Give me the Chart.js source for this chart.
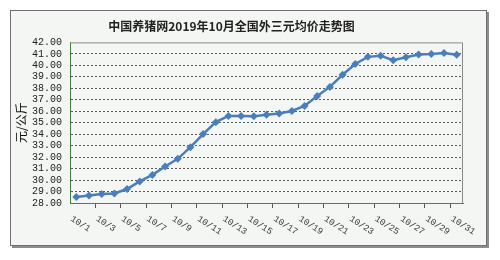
<!DOCTYPE html>
<html>
<head>
<meta charset="utf-8">
<script src="https://cdn.jsdelivr.net/npm/chart.js@4"></script>
<style>
  html, body { margin: 0; padding: 0; background: #ffffff; }
  #wrap { position: relative; width: 500px; height: 260px; }
  /* outer frame with shadow, like the Excel chart box */
  #frame {
    position: absolute; left: 10px; top: 10px; width: 475px; height: 234px;
    background: #f4f6f3; border: 1px solid #707070; box-shadow: 2px 2px 0 #8c8c8c;
  }
  #priceChart { position: absolute; left: 0; top: 0; }
</style>
</head>
<body>
<div id="wrap">
  <div id="frame"></div>
  <canvas id="priceChart" width="500" height="260"></canvas>
</div>
<script>
// Chart data
const chartTitle = '中国养猪网2019年10月全国外三元均价走势图';
const yAxisTitle = '元/公斤';
const days = ['10/1','10/2','10/3','10/4','10/5','10/6','10/7','10/8','10/9','10/10',
  '10/11','10/12','10/13','10/14','10/15','10/16','10/17','10/18','10/19','10/20',
  '10/21','10/22','10/23','10/24','10/25','10/26','10/27','10/28','10/29','10/30','10/31'];
const prices = [28.52, 28.66, 28.78, 28.83, 29.22, 29.88, 30.45, 31.18, 31.85, 32.87,
  34.01, 35.05, 35.59, 35.58, 35.57, 35.69, 35.80, 36.02, 36.46, 37.32,
  38.12, 39.18, 40.12, 40.74, 40.84, 40.45, 40.71, 40.94, 40.99, 41.08, 40.93];
const yMin = 28;
const yMax = 42;

/* ============================================
   PLUGINS
   ============================================ */
// Top and right plot border
const plotBorder = {
  id: 'plotBorder',
  beforeDatasetsDraw(chart) {
    const { ctx, chartArea: a } = chart;
    ctx.save();
    ctx.strokeStyle = '#8a8a8a';
    ctx.lineWidth = 1;
    ctx.beginPath();
    ctx.moveTo(a.left, a.top + 0.5);
    ctx.lineTo(a.right - 0.5, a.top + 0.5);
    ctx.lineTo(a.right - 0.5, a.bottom);
    ctx.stroke();
    ctx.restore();
  }
};

// Slanted x labels (rotated clockwise), every second day
const slantedLabels = {
  id: 'slantedLabels',
  afterDraw(chart) {
    const { ctx, chartArea: a } = chart;
    const xScale = chart.scales.x;
    ctx.save();
    ctx.font = '9px "Liberation Mono"';
    ctx.fillStyle = '#333333';
    ctx.textAlign = 'left';
    ctx.textBaseline = 'middle';
    days.forEach((d, i) => {
      if (i % 2 !== 0) return;
      const x = xScale.getPixelForValue(i);
      ctx.save();
      ctx.translate(x - 5, a.bottom + 15);
      ctx.rotate(33 * Math.PI / 180);
      ctx.fillText(d, 0, 0);
      ctx.restore();
    });
    ctx.restore();
  }
};

/* ============================================
   CHART
   ============================================ */
const ctx = document.getElementById('priceChart').getContext('2d');
new Chart(ctx, {
  type: 'line',
  data: {
    labels: days,
    datasets: [{
      data: prices,
      borderColor: '#4a7ebb',
      backgroundColor: '#4a7ebb',
      borderWidth: 2.5,
      tension: 0,
      pointStyle: 'rectRot',
      pointRadius: 4,
      pointBorderWidth: 0,
      pointBackgroundColor: '#4a7ebb'
    }]
  },
  options: {
    responsive: false,
    animation: false,
    layout: { padding: { left: 0, top: 19, right: 37, bottom: 52 } },
    plugins: {
      legend: { display: false },
      tooltip: { enabled: false },
      title: {
        display: true,
        text: chartTitle,
        color: '#222222',
        font: { family: '"Noto Sans CJK SC"', size: 12, weight: 'bold' },
        padding: { top: 0, bottom: 9 }
      }
    },
    scales: {
      x: {
        type: 'category',
        offset: true,
        grid: {
          offset: true,
          drawOnChartArea: false,
          drawTicks: true,
          tickLength: 5,
          color: c => (c.index % 2 === 0 && c.index > 0) ? '#555555' : 'rgba(0,0,0,0)'
        },
        border: { display: true, color: '#6a6a6a', width: 1 },
        ticks: { display: false, autoSkip: false },
        afterFit: s => { s.height = 5; }
      },
      y: {
        min: yMin,
        max: yMax,
        grid: {
          drawTicks: false,
          color: c => (c.tick.value === yMin || c.tick.value === yMax) ? 'rgba(0,0,0,0)' : '#5a5a5a'
        },
        border: { display: true, color: '#3f7f3f', width: 1, dash: [2, 2] },
        ticks: {
          stepSize: 1,
          autoSkip: false,
          padding: 8,
          color: '#222222',
          font: { family: '"Liberation Mono"', size: 10 },
          callback: v => v.toFixed(2)
        },
        title: {
          display: true,
          text: yAxisTitle,
          color: '#111111',
          font: { family: '"Noto Sans CJK SC"', size: 12 },
          padding: { top: 14, bottom: 0 }
        },
        afterFit: s => { s.width = 70; }
      }
    }
  },
  plugins: [plotBorder, slantedLabels]
});
</script>
</body>
</html>
